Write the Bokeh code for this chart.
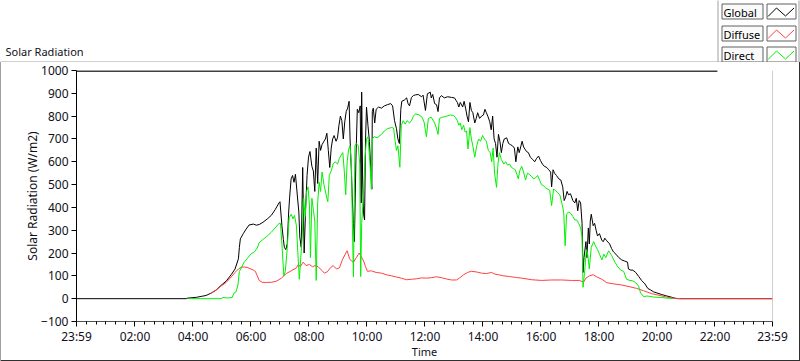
from bokeh.plotting import figure
from bokeh.models import FixedTicker, Span, Range1d
from bokeh.core.properties import value
from bokeh.embed import file_html
from bokeh.resources import INLINE

# ---------------- data (minutes after midnight, W/m2) ----------------
global_pts = [(-1,0),(226,0),(228,2),(236,4),(247,6),(257,10),(267,14),(278,25),(288,38),(298,58),(309,78),(319,105),(327,130),(334,175),(336,225),(338,262),(344,285),(350,305),(356,323),(365,327),(371,322),(377,325),(385,335),(394,350),(402,365),(410,390),(418,420),(420,425),(424,320),(427,260),(429,225),(432,215),(435,240),(438,380),(440,445),(443,525),(446,540),(449,510),(452,545),(456,450),(459,380),(461,270),(464,225),(467,575),(470,200),(473,390),(476,540),(479,620),(482,645),(486,580),(489,560),(492,470),(495,660),(498,505),(501,690),(504,650),(507,675),(511,690),(514,700),(517,725),(520,650),(523,575),(526,660),(529,700),(532,715),(536,690),(539,705),(542,760),(545,800),(548,780),(551,700),(554,775),(557,820),(560,835),(563,865),(565,700),(568,540),(570,420),(572,330),(574,250),(577,600),(580,830),(583,815),(586,845),(588,420),(589,905),(591,520),(593,370),(595,345),(597,700),(599,840),(602,760),(605,690),(608,560),(610,480),(611,820),(613,835),(616,770),(619,830),(624,840),(630,835),(636,845),(642,850),(649,855),(653,845),(657,780),(661,745),(664,700),(667,680),(670,830),(672,865),(677,870),(682,880),(685,855),(688,845),(692,882),(696,890),(700,893),(706,895),(713,885),(716,892),(721,825),(725,898),(731,905),(733,880),(736,895),(740,855),(744,850),(747,820),(750,880),(754,890),(760,880),(767,885),(775,882),(781,880),(784,870),(787,860),(790,840),(793,860),(798,840),(801,865),(804,835),(807,800),(810,775),(813,860),(816,825),(819,815),(823,770),(826,790),(829,815),(833,790),(837,800),(841,805),(844,830),(847,815),(850,800),(854,775),(857,740),(860,800),(863,700),(866,680),(869,620),(872,720),(875,690),(878,640),(881,680),(884,700),(889,705),(893,680),(897,675),(901,670),(905,660),(908,600),(912,665),(915,640),(918,665),(921,690),(924,665),(927,655),(930,645),(934,640),(938,620),(943,610),(947,600),(951,615),(955,625),(959,605),(963,590),(967,580),(972,575),(976,565),(980,555),(982,490),(985,565),(988,550),(992,540),(997,525),(1001,520),(1005,490),(1008,430),(1011,445),(1014,470),(1017,455),(1021,460),(1026,430),(1030,420),(1033,440),(1036,385),(1039,430),(1042,420),(1045,330),(1047,115),(1049,180),(1053,250),(1055,180),(1058,310),(1060,240),(1062,340),(1064,370),(1068,320),(1071,330),(1074,300),(1077,275),(1081,285),(1086,255),(1089,250),(1092,265),(1096,254),(1102,240),(1106,220),(1110,205),(1115,195),(1121,180),(1127,170),(1133,165),(1139,160),(1141,130),(1146,125),(1150,125),(1156,115),(1162,98),(1168,80),(1175,65),(1181,45),(1187,38),(1193,30),(1200,25),(1210,18),(1220,12),(1231,6),(1237,2),(1243,0),(1439,0)]

diffuse_pts = [(276,22),(278,24),(288,38),(298,55),(309,72),(319,95),(327,115),(334,130),(340,138),(346,139),(352,137),(358,132),(365,125),(369,120),(373,100),(377,80),(383,72),(392,71),(402,72),(412,76),(423,90),(433,110),(443,122),(454,135),(458,150),(462,140),(468,160),(474,145),(481,150),(487,140),(493,145),(499,140),(506,125),(512,112),(518,118),(524,135),(530,145),(537,130),(543,135),(549,170),(555,195),(559,210),(564,175),(568,165),(572,160),(578,180),(584,200),(588,185),(593,165),(597,140),(601,120),(609,122),(619,115),(630,112),(640,105),(651,100),(661,95),(671,90),(682,83),(692,85),(702,87),(713,91),(723,90),(733,92),(744,96),(754,92),(765,86),(775,82),(785,82),(791,90),(800,105),(808,115),(816,120),(827,117),(837,112),(847,110),(858,115),(864,108),(872,105),(883,100),(895,97),(909,93),(920,90),(941,83),(961,80),(982,82),(1003,82),(1023,80),(1040,80),(1048,72),(1053,90),(1060,100),(1068,105),(1075,96),(1086,85),(1096,70),(1110,65),(1127,60),(1144,52),(1158,45),(1172,35),(1189,22),(1206,14),(1222,6),(1235,2),(1251,0),(1439,0)]

direct_pts = [(232,0),(298,0),(302,5),(311,3),(321,5),(325,25),(329,30),(333,60),(336,120),(340,135),(346,160),(352,175),(360,196),(367,205),(373,222),(377,245),(385,260),(394,275),(402,291),(410,310),(418,330),(421,330),(424,240),(428,100),(431,120),(435,220),(439,355),(443,370),(447,350),(450,365),(454,320),(457,200),(460,85),(463,180),(466,270),(469,440),(472,360),(475,470),(478,490),(481,410),(483,180),(486,440),(489,390),(492,340),(495,80),(498,420),(501,510),(504,470),(507,555),(511,500),(516,450),(519,425),(522,540),(526,560),(530,590),(534,600),(539,590),(543,615),(547,630),(550,640),(553,560),(556,455),(559,600),(562,655),(565,670),(568,580),(570,300),(572,95),(575,670),(578,680),(582,670),(585,590),(587,97),(589,330),(593,460),(596,620),(599,700),(602,710),(606,600),(609,480),(611,700),(615,710),(621,705),(630,720),(636,735),(642,745),(651,750),(655,748),(658,695),(661,650),(664,670),(668,576),(671,760),(675,780),(679,765),(683,780),(688,770),(692,780),(696,800),(700,810),(708,805),(714,795),(718,775),(723,710),(727,790),(733,795),(740,770),(744,745),(747,720),(750,790),(756,795),(765,800),(773,805),(779,803),(783,795),(787,780),(790,760),(793,770),(796,740),(800,760),(803,730),(806,735),(809,656),(813,750),(816,700),(819,670),(823,620),(827,670),(831,700),(835,690),(839,715),(843,700),(847,690),(851,650),(855,640),(858,600),(861,660),(864,550),(868,488),(871,590),(874,640),(878,610),(883,590),(887,600),(891,585),(895,590),(899,575),(903,570),(907,565),(913,525),(916,560),(920,580),(924,555),(928,520),(932,550),(936,545),(941,535),(945,525),(949,530),(953,540),(957,520),(961,500),(965,495),(970,485),(974,480),(978,475),(982,408),(986,480),(990,475),(994,465),(999,455),(1003,420),(1007,380),(1010,232),(1013,370),(1017,380),(1021,375),(1026,360),(1030,345),(1034,345),(1038,330),(1042,310),(1045,270),(1047,50),(1050,110),(1052,160),(1054,215),(1057,190),(1060,130),(1064,225),(1069,250),(1073,230),(1077,215),(1081,195),(1086,170),(1090,195),(1094,180),(1100,210),(1106,190),(1113,160),(1119,140),(1125,125),(1131,120),(1137,85),(1144,80),(1150,78),(1156,70),(1162,55),(1166,25),(1173,8),(1179,12),(1185,10),(1193,7),(1202,6),(1210,5),(1218,3),(1227,2),(1233,0)]

series_names = ["Global", "Diffuse", "Direct"]
series_colors = ["#000000", "#ff4040", "#00f000"]

x_tick_minutes = [-1, 120, 240, 360, 480, 600, 720, 840, 960, 1080, 1200, 1320, 1439]
x_tick_labels = ["23:59", "02:00", "04:00", "06:00", "08:00", "10:00", "12:00",
                 "14:00", "16:00", "18:00", "20:00", "22:00", "23:59"]
x_minor_minutes = [m for m in range(20, 1439, 20) if m % 120 != 0]
y_ticks = [-100, 0, 100, 200, 300, 400, 500, 600, 700, 800, 900, 1000]

title_text = "Solar Radiation"
y_label = "Solar Radiation (W/m2)"
x_label = "Time"

FONT = "Noto Sans"
FS = "12px"
FS_SMALL = "11px"
TXT = "#101020"

# ---------------- header strip: title + legend (pixel coordinates) ----------------
TOP_H = 62
top = figure(width=800, height=TOP_H, x_range=Range1d(0, 800), y_range=Range1d(TOP_H, 0),
             output_backend="svg", toolbar_location=None, min_border=0,
             min_border_left=0, min_border_right=0, min_border_top=0, min_border_bottom=0,
             x_axis_type=None, y_axis_type=None,
             background_fill_color="white", border_fill_color="white")
top.outline_line_color = None
top.grid.visible = False

# grey rule under the title
top.segment(x0=[0], y0=[61.5], x1=[717], y1=[61.5], line_color="#a0a0a0", line_width=1)
top.text(x=[5], y=[51], text=[title_text], text_font=value(FONT), text_font_size=FS_SMALL,
         text_color=TXT, text_baseline="middle", text_align="left")

# legend panel
top.quad(left=[717.5], right=[798.5], top=[-5], bottom=[61.5],
         fill_color="white", line_color="#a0a0a0", line_width=1)
row_tops = [3.5, 25.5, 46.5]
for name, color, t in zip(series_names, series_colors, row_tops):
    top.quad(left=[721.5], right=[762.5], top=[t], bottom=[t + 15],
             fill_color="#fafafa", line_color="#606060", line_width=1)
    top.quad(left=[766.5], right=[795.5], top=[t], bottom=[t + 15],
             fill_color="white", line_color="#606060", line_width=1)
    top.text(x=[723], y=[t + 8], text=[name], text_font=value(FONT), text_font_size=FS_SMALL,
             text_color="black", text_baseline="middle", text_align="left")
    top.line(x=[767.5, 776, 785, 793.5], y=[t + 12.5, t + 4, t + 12, t + 4],
             line_color=color, line_width=1)

# ---------------- main chart ----------------
MAIN_H = 361 - TOP_H
p = figure(width=800, height=MAIN_H, output_backend="svg", toolbar_location=None,
           x_range=Range1d(-1, 1439), y_range=Range1d(-100, 1000),
           min_border_left=76, min_border_right=28,
           min_border_top=8, min_border_bottom=39,
           background_fill_color="white", border_fill_color=None,
           styles={"box-shadow": "inset 1px 0 0 #a0a0a0, inset -1px -1px 0 #303030"})
p.outline_line_color = None
p.grid.visible = False

for pts, color in zip([global_pts, diffuse_pts, direct_pts], series_colors):
    xs, ys = zip(*pts)
    p.line(list(xs), list(ys), line_color=color, line_width=1)

# y axis
ya = p.yaxis[0]
ya.ticker = FixedTicker(ticks=y_ticks)
ya.major_tick_out = 5
ya.major_tick_in = 0
ya.minor_tick_out = 0
ya.minor_tick_in = 0
ya.axis_line_color = "black"
ya.major_tick_line_color = "black"
ya.major_label_standoff = 3
ya.major_label_text_font = FONT
ya.major_label_text_font_size = FS
ya.major_label_text_color = TXT
ya.axis_label = y_label
ya.axis_label_text_font = FONT
ya.axis_label_text_font_size = FS
ya.axis_label_text_font_style = "normal"
ya.axis_label_text_color = TXT
ya.axis_label_standoff = -3

# x axis
xa = p.xaxis[0]
xa.ticker = FixedTicker(ticks=x_tick_minutes, minor_ticks=x_minor_minutes)
xa.major_label_overrides = dict(zip(x_tick_minutes, x_tick_labels))
xa.major_tick_out = 5
xa.major_tick_in = 0
xa.minor_tick_out = 3
xa.minor_tick_in = 0
xa.axis_line_color = "#505050"
xa.major_tick_line_color = "black"
xa.minor_tick_line_color = "black"
xa.major_label_standoff = 1
xa.major_label_text_font = FONT
xa.major_label_text_font_size = FS
xa.major_label_text_color = TXT
xa.axis_label = x_label
xa.axis_label_text_font = FONT
xa.axis_label_text_font_size = FS_SMALL
xa.axis_label_text_font_style = "normal"
xa.axis_label_text_color = TXT
xa.axis_label_standoff = -4

# plot-area border: black top (hidden under the legend panel at right), grey right side
p.segment(x0=[-1], y0=[997.8], x1=[1325], y1=[997.8], line_color="black", line_width=1.3)
p.add_layout(Span(location=1439, dimension="height", line_color="#a0a0a0", line_width=1))

open("out.html", "w").write(file_html([top, p], INLINE))
